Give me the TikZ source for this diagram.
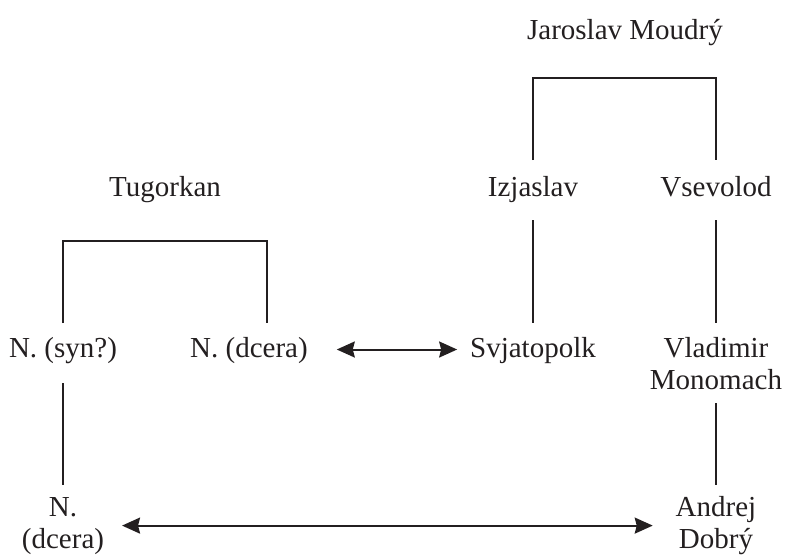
\documentclass[tikz,border=0pt]{standalone}
\usepackage{fontspec}
\setmainfont{Liberation Serif}
\usetikzlibrary{arrows.meta}
\definecolor{ink}{HTML}{231F20}
\begin{document}
\begin{tikzpicture}[x=1pt,y=-1pt,
  lbl/.style={inner sep=0pt,outer sep=0pt,text=ink,anchor=base,
    font=\fontsize{29}{32}\selectfont},
  one/.style={lbl,text height=21pt,text depth=6pt},
  two/.style={lbl,align=center},
  link/.style={draw=ink,line width=2pt},
  dbl/.style={link,{Stealth[length=18pt,width=16pt,inset=2pt]}-{Stealth[length=18pt,width=16pt,inset=2pt]}}
]
\useasboundingbox (0,0) rectangle (787,555);
% nodes
\node[one] (jm) at (625,39) {Jaroslav Moudrý};
\node[one] (tg) at (165,196) {Tugorkan};
\node[one] (iz) at (533,196) {Izjaslav};
\node[one] (vs) at (716,196) {Vsevolod};
\node[one] (ns) at (63,357) {N. (syn?)};
\node[one] (nd) at (249,357) {N. (dcera)};
\node[one] (sv) at (533,357) {Svjatopolk};
\node[two] (vm) at (716,389) {Vladimir\\Monomach};
\node[two] (nb) at (63,548) {N.\\(dcera)};
\node[two] (ad) at (716,548) {Andrej\\Dobrý};
% brackets
\draw[link] ([yshift=15pt]iz.north) |- ([yshift=-33pt]jm.south) -| ([yshift=15pt]vs.north);
\draw[link] ([yshift=13pt]ns.north) |- ([yshift=-39pt]tg.south) -| ([xshift=18pt,yshift=13pt]nd.north);
% descent lines
\draw[link,shorten <=18pt,shorten >=13pt] (iz.south) -- (sv.north);
\draw[link,shorten <=18pt,shorten >=14pt] (vs.south) -- (vm.north);
\draw[link,shorten <=14pt,shorten >=11pt] (vm.south) -- (ad.north);
\draw[link,shorten <=20pt,shorten >=12pt] (ns.south) -- (nb.north);
% marriages
\draw[dbl,shorten <=29pt,shorten >=13pt] (nd.east) -- (nd.east -| sv.west);
\draw[dbl,shorten <=18pt,shorten >=23pt] (nb.east) -- (nb.east -| ad.west);
\end{tikzpicture}
\end{document}
